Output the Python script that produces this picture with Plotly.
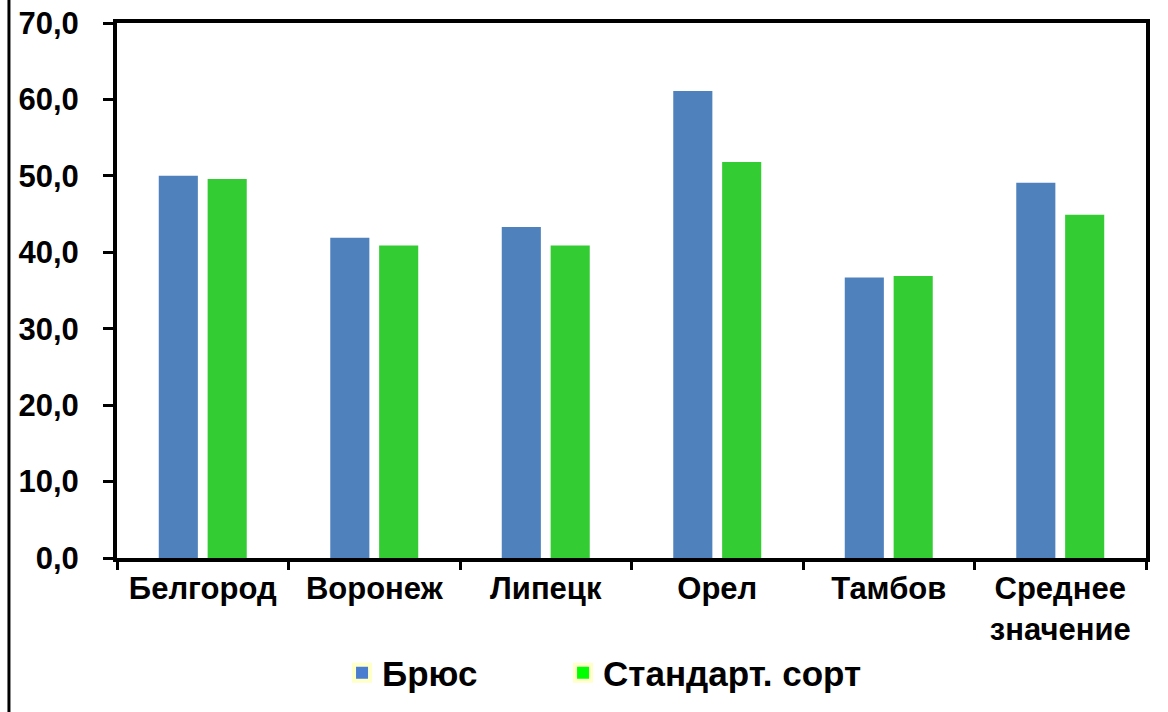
import plotly.graph_objects as go

regions = ["Белгород", "Воронеж", "Липецк", "Орел", "Тамбов", "Среднее<br>значение"]
brus = [50.0, 41.9, 43.3, 61.1, 36.7, 49.1]
standard = [49.6, 40.9, 40.9, 51.8, 36.9, 44.9]

series_names = ["Брюс", "Стандарт. сорт"]
bar_colors = ["#4F81BD", "#33CC33"]
legend_colors = ["#4A7CD0", "#00FF00"]

fig = go.Figure()

for name, vals, col in zip(series_names, [brus, standard], bar_colors):
    fig.add_trace(go.Bar(
        x=regions, y=vals, name=name,
        marker=dict(color=col, line=dict(width=0)),
        showlegend=False
    ))

# отдельные элементы легенды (квадраты с желтой рамкой), каждый в своей легенде
for name, col, lg in zip(series_names, legend_colors, ["legend", "legend2"]):
    fig.add_trace(go.Scatter(
        x=[None], y=[None], mode="markers", name=name, legend=lg,
        marker=dict(symbol="square", size=24, color=col,
                    line=dict(color="#FFFFC8", width=4))
    ))

bold = dict(family="Liberation Sans, Arial", size=31, color="black", weight="bold")
legend_font = dict(family="Liberation Sans, Arial", size=35, color="black", weight="bold")

fig.update_layout(
    width=1168, height=712,
    margin=dict(l=117, r=22, t=23, b=154, autoexpand=False),
    paper_bgcolor="white", plot_bgcolor="white",
    separators=", ",
    bargap=0.43, bargroupgap=0.2,
    font=bold,
    showlegend=True,
    legend=dict(x=0.2187, y=-0.215, xanchor="left", yanchor="middle",
                font=legend_font, bgcolor="rgba(0,0,0,0)"),
    legend2=dict(x=0.4335, y=-0.215, xanchor="left", yanchor="middle",
                 font=legend_font, bgcolor="rgba(0,0,0,0)"),
    xaxis=dict(
        showline=True, linecolor="black", linewidth=4, mirror=True,
        ticks="outside", tickson="boundaries", ticklen=8, tickwidth=3, tickcolor="black",
        tickfont=bold, automargin=False,
        showgrid=False,
    ),
    yaxis=dict(
        range=[0, 70], dtick=10, tickformat=".1f",
        showline=True, linecolor="black", linewidth=4, mirror=True,
        ticks="outside", ticklen=10, tickwidth=3, tickcolor="black",
        tickfont=bold, automargin=False, ticklabelstandoff=18,
        ticklabeloverflow="allow",
        showgrid=False, zeroline=False,
    ),
)

# рамка слева
fig.add_shape(type="line", xref="paper", yref="paper", x0=-0.105, x1=-0.105, y0=-0.3, y1=1.05,
              line=dict(color="black", width=3))

# убрать стандартный отступ body, чтобы график занимал всё окно
fig.write_html("out.html", config={"displayModeBar": False},
               post_script="document.body.style.margin='0';")
